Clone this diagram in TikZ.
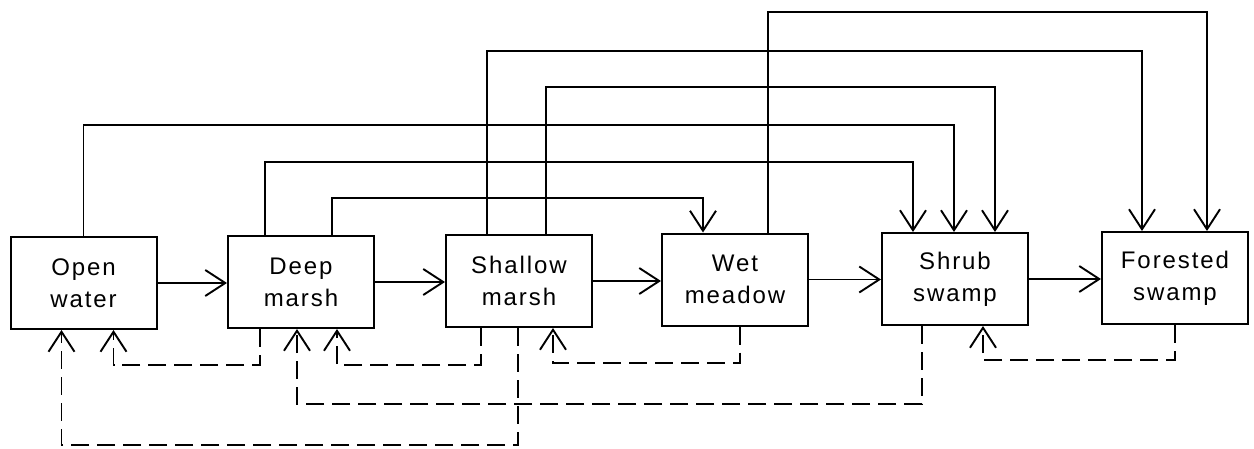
\documentclass[tikz,border=0pt]{standalone}
\usepackage{fontspec}
\setmainfont{Liberation Sans}[LetterSpace=8]
\usetikzlibrary{arrows.meta,calc}
\tikzset{
  stage/.style={draw, line width=1pt, minimum width=73pt, minimum height=46pt, inner sep=0pt,
    align=center, font=\fontsize{12}{16}\selectfont},
  arr/.style={line width=0.95pt, -{Straight Barb[length=10pt,width=13pt]}},
  darr/.style={arr, dash pattern=on 9pt off 4pt}
}
\begin{document}
\begin{tikzpicture}[x=0.5pt,y=-0.5pt]
\useasboundingbox (0,0) rectangle (1254,449);
\node[stage] (ow) at (83.5,283) {Open\\water};
\node[stage] (dm) at (301,282) {Deep\\marsh};
\node[stage] (sm) at (519,281) {Shallow\\marsh};
\node[stage] (wm) at (735,279.5) {Wet\\meadow};
\node[stage] (ss) at (955,279) {Shrub\\swamp};
\node[stage] (fs) at (1175,278) {Forested\\swamp};
% successional arrows
\draw[arr] (ow.east) -- (ow.east -| dm.west);
\draw[arr] (dm.east) -- (dm.east -| sm.west);
\draw[arr] (sm.east) -- (sm.east -| wm.west);
\draw[arr] (wm.east) -- (wm.east -| ss.west);
\draw[arr] (ss.east) -- (ss.east -| fs.west);
% top connectors
\draw[arr] ($(wm.north)+(33,0)$) |- ($(fs.north)+(32,-219)$) -- ($(fs.north)+(32,0)$);
\draw[arr] ($(sm.north)+(-32,0)$) |- ($(fs.north)+(-33,-180)$) -- ($(fs.north)+(-33,0)$);
\draw[arr] ($(sm.north)+(27,0)$) |- ($(ss.north)+(40,-145)$) -- ($(ss.north)+(40,0)$);
\draw[arr] ($(ow.north)+(0,0)$) |- ($(ss.north)+(-1,-107)$) -- ($(ss.north)+(-1,0)$);
\draw[arr] ($(dm.north)+(-36,0)$) |- ($(ss.north)+(-42,-70)$) -- ($(ss.north)+(-42,0)$);
\draw[arr] ($(dm.north)+(31,0)$) |- ($(wm.north)+(-32,-34.5)$) -- ($(wm.north)+(-32,0)$);
% bottom dashed connectors
\draw[darr] ($(dm.south)+(-41,0)$) |- ($(ow.south)+(30,35)$) -- ($(ow.south)+(30,0)$);
\draw[darr] ($(sm.south)+(-38,0)$) |- ($(dm.south)+(36,36)$) -- ($(dm.south)+(36,0)$);
\draw[darr] ($(wm.south)+(5,0)$) |- ($(sm.south)+(34,35)$) -- ($(sm.south)+(34,0)$);
\draw[darr] ($(fs.south)+(0,0)$) |- ($(ss.south)+(28,34)$) -- ($(ss.south)+(28,0)$);
\draw[darr] ($(ss.south)+(-33,0)$) |- ($(dm.south)+(-4,75)$) -- ($(dm.south)+(-4,0)$);
\draw[darr] ($(sm.south)+(-1,0)$) |- ($(ow.south)+(-22,115)$) -- ($(ow.south)+(-22,0)$);
\end{tikzpicture}
\end{document}
